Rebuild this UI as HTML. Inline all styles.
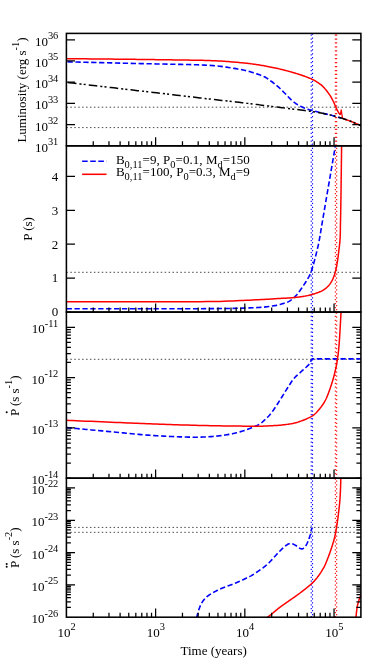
<!DOCTYPE html>
<html><head><meta charset="utf-8"><title>chart</title>
<style>html,body{margin:0;padding:0;background:#fff;}svg{display:block;}svg{will-change:transform;}text{font-family:"Liberation Serif",serif;fill:#000;}</style></head><body>
<svg width="380" height="664" viewBox="0 0 380 664">
<rect width="380" height="664" fill="#fff"/>
<defs>
<clipPath id="c0"><rect x="66.4" y="33.4" width="294.5" height="112.4"/></clipPath>
<clipPath id="c1"><rect x="66.4" y="145.8" width="294.5" height="166.3"/></clipPath>
<clipPath id="c2"><rect x="66.4" y="312.1" width="294.5" height="166.1"/></clipPath>
<clipPath id="c3"><rect x="66.4" y="478.2" width="294.5" height="139"/></clipPath>
</defs>
<path d="M66.4 107.2 H360.9" fill="none" stroke="#000" stroke-width="0.72" stroke-dasharray="1.5 2.43"/>
<path d="M66.4 127.6 H360.9" fill="none" stroke="#000" stroke-width="0.72" stroke-dasharray="1.5 2.43"/>
<path d="M66.4 272.3 H360.9" fill="none" stroke="#000" stroke-width="0.72" stroke-dasharray="1.5 2.43"/>
<path d="M66.4 359.3 H360.9" fill="none" stroke="#000" stroke-width="0.72" stroke-dasharray="1.5 2.43"/>
<path d="M66.4 527.4 H360.9" fill="none" stroke="#000" stroke-width="0.72" stroke-dasharray="1.5 2.43"/>
<path d="M66.4 532.3 H360.9" fill="none" stroke="#000" stroke-width="0.72" stroke-dasharray="1.5 2.43"/>
<path d="M311.25 145.8 V33.4" fill="none" stroke="#0000ff" stroke-width="1.1" stroke-dasharray="1.25 2.68" stroke-dashoffset="0"/>
<path d="M312.55 145.8 V33.4" fill="none" stroke="#0000ff" stroke-width="1.1" stroke-dasharray="1.25 2.68" stroke-dashoffset="-1"/>
<path d="M311.25 312.1 V145.8" fill="none" stroke="#0000ff" stroke-width="1.1" stroke-dasharray="1.25 2.68" stroke-dashoffset="0"/>
<path d="M312.55 312.1 V145.8" fill="none" stroke="#0000ff" stroke-width="1.1" stroke-dasharray="1.25 2.68" stroke-dashoffset="2"/>
<path d="M311.25 478.2 V312.1" fill="none" stroke="#0000ff" stroke-width="1.1" stroke-dasharray="1.25 2.68" stroke-dashoffset="0"/>
<path d="M312.55 478.2 V312.1" fill="none" stroke="#0000ff" stroke-width="1.1" stroke-dasharray="1.25 2.68" stroke-dashoffset="0.3"/>
<path d="M311.25 617.2 V478.2" fill="none" stroke="#0000ff" stroke-width="1.1" stroke-dasharray="1.25 2.68" stroke-dashoffset="0"/>
<path d="M312.55 617.2 V478.2" fill="none" stroke="#0000ff" stroke-width="1.1" stroke-dasharray="1.25 2.68" stroke-dashoffset="2"/>
<path d="M335.35 145.8 V33.4" fill="none" stroke="#ff0000" stroke-width="1.1" stroke-dasharray="1.25 2.68" stroke-dashoffset="0"/>
<path d="M336.65 145.8 V33.4" fill="none" stroke="#ff0000" stroke-width="1.1" stroke-dasharray="1.25 2.68" stroke-dashoffset="0"/>
<path d="M335.35 312.1 V145.8" fill="none" stroke="#ff0000" stroke-width="1.1" stroke-dasharray="1.25 2.68" stroke-dashoffset="0"/>
<path d="M336.65 312.1 V145.8" fill="none" stroke="#ff0000" stroke-width="1.1" stroke-dasharray="1.25 2.68" stroke-dashoffset="2"/>
<path d="M335.35 478.2 V312.1" fill="none" stroke="#ff0000" stroke-width="1.1" stroke-dasharray="1.25 2.68" stroke-dashoffset="0"/>
<path d="M336.65 478.2 V312.1" fill="none" stroke="#ff0000" stroke-width="1.1" stroke-dasharray="1.25 2.68" stroke-dashoffset="0.7"/>
<path d="M335.35 617.2 V478.2" fill="none" stroke="#ff0000" stroke-width="1.1" stroke-dasharray="1.25 2.68" stroke-dashoffset="0"/>
<path d="M336.65 617.2 V478.2" fill="none" stroke="#ff0000" stroke-width="1.1" stroke-dasharray="1.25 2.68" stroke-dashoffset="2"/>
<path d="M66.6 61.8 L69.22 61.86 L72.56 61.95 L76.51 62.04 L80.94 62.15 L85.74 62.27 L90.8 62.39 L96 62.52 L101.21 62.65 L106.34 62.77 L111.26 62.89 L115.85 63 L120 63.1 L123.8 63.19 L127.44 63.27 L130.94 63.35 L134.33 63.43 L137.62 63.5 L140.84 63.58 L144.01 63.65 L147.16 63.71 L150.31 63.78 L153.49 63.85 L156.71 63.93 L160 64 L163.39 64.07 L166.89 64.14 L170.45 64.21 L174.04 64.28 L177.63 64.34 L181.19 64.41 L184.68 64.48 L188.07 64.56 L191.34 64.63 L194.43 64.72 L197.33 64.8 L200 64.9 L202.41 65 L204.6 65.09 L206.58 65.19 L208.4 65.29 L210.09 65.39 L211.68 65.49 L213.21 65.61 L214.7 65.74 L216.19 65.88 L217.71 66.03 L219.31 66.21 L221 66.4 L222.79 66.62 L224.64 66.87 L226.54 67.14 L228.45 67.43 L230.36 67.73 L232.26 68.04 L234.11 68.35 L235.91 68.66 L237.62 68.97 L239.24 69.26 L240.74 69.54 L242.1 69.8 L243.3 70.04 L244.35 70.25 L245.28 70.45 L246.11 70.64 L246.85 70.83 L247.54 71.01 L248.2 71.2 L248.85 71.39 L249.51 71.59 L250.21 71.81 L250.96 72.04 L251.8 72.3 L252.71 72.58 L253.66 72.87 L254.65 73.17 L255.65 73.48 L256.67 73.8 L257.69 74.13 L258.71 74.47 L259.71 74.82 L260.69 75.18 L261.64 75.55 L262.55 75.92 L263.4 76.3 L264.2 76.69 L264.97 77.08 L265.7 77.49 L266.4 77.9 L267.07 78.32 L267.73 78.74 L268.38 79.18 L269.01 79.63 L269.65 80.08 L270.29 80.54 L270.94 81.02 L271.6 81.5 L272.27 82 L272.95 82.51 L273.63 83.04 L274.31 83.58 L274.99 84.13 L275.67 84.68 L276.34 85.24 L277 85.8 L277.64 86.36 L278.28 86.91 L278.9 87.46 L279.5 88 L280.08 88.53 L280.64 89.06 L281.19 89.59 L281.72 90.11 L282.24 90.64 L282.75 91.16 L283.26 91.69 L283.76 92.21 L284.26 92.73 L284.77 93.25 L285.28 93.78 L285.8 94.3 L286.32 94.83 L286.85 95.37 L287.38 95.91 L287.9 96.46 L288.43 97.01 L288.95 97.56 L289.48 98.1 L290 98.63 L290.53 99.14 L291.05 99.65 L291.58 100.13 L292.1 100.6 L292.62 101.05 L293.15 101.48 L293.67 101.91 L294.2 102.32 L294.72 102.72 L295.24 103.11 L295.77 103.48 L296.29 103.85 L296.82 104.2 L297.34 104.55 L297.87 104.88 L298.4 105.2 L298.93 105.51 L299.45 105.8 L299.98 106.08 L300.5 106.34 L301.02 106.6 L301.55 106.84 L302.08 107.08 L302.61 107.31 L303.15 107.54 L303.69 107.76 L304.24 107.98 L304.8 108.2 L305.36 108.42 L305.91 108.62 L306.46 108.82 L307 109.01 L307.56 109.2 L308.12 109.38 L308.69 109.56 L309.29 109.74 L309.9 109.93 L310.53 110.11 L311.2 110.3 L311.9 110.5 L312.65 110.7 L313.44 110.91 L314.28 111.13 L315.14 111.34 L316.03 111.56 L316.93 111.78 L317.83 112 L318.72 112.21 L319.59 112.42 L320.44 112.62 L321.24 112.82 L322 113 L322.7 113.17 L323.34 113.32 L323.93 113.46 L324.49 113.6 L325.04 113.72 L325.57 113.85 L326.12 113.98 L326.69 114.11 L327.28 114.26 L327.93 114.42 L328.63 114.6 L329.4 114.8 L330.28 115.03 L331.28 115.3 L332.38 115.6 L333.53 115.91 L334.72 116.24 L335.91 116.56 L337.08 116.88 L338.19 117.19 L339.22 117.47 L340.13 117.72 L340.9 117.94 L341.5 118.1" fill="none" stroke="#0000ff" stroke-width="1.6" stroke-dasharray="5.3 2.6" clip-path="url(#c0)" stroke-dashoffset="7.0"/>
<path d="M66.6 58.7 L69.22 58.72 L72.56 58.75 L76.51 58.79 L80.94 58.83 L85.74 58.87 L90.8 58.92 L96 58.97 L101.21 59.01 L106.34 59.06 L111.26 59.11 L115.85 59.16 L120 59.2 L123.8 59.24 L127.44 59.28 L130.94 59.32 L134.33 59.36 L137.62 59.4 L140.84 59.44 L144.01 59.48 L147.16 59.53 L150.31 59.57 L153.49 59.61 L156.71 59.65 L160 59.7 L163.39 59.75 L166.89 59.79 L170.45 59.84 L174.04 59.89 L177.63 59.93 L181.19 59.98 L184.68 60.03 L188.07 60.08 L191.34 60.13 L194.43 60.19 L197.33 60.24 L200 60.3 L202.41 60.36 L204.6 60.41 L206.58 60.46 L208.4 60.52 L210.09 60.57 L211.68 60.63 L213.21 60.69 L214.7 60.76 L216.19 60.83 L217.71 60.91 L219.31 61 L221 61.1 L222.78 61.21 L224.59 61.33 L226.44 61.46 L228.29 61.6 L230.15 61.74 L231.99 61.89 L233.81 62.05 L235.6 62.2 L237.33 62.35 L239 62.51 L240.59 62.66 L242.1 62.8 L243.51 62.94 L244.83 63.08 L246.08 63.21 L247.26 63.34 L248.4 63.47 L249.49 63.61 L250.57 63.74 L251.63 63.88 L252.69 64.03 L253.76 64.18 L254.86 64.33 L256 64.5 L257.16 64.67 L258.31 64.85 L259.45 65.02 L260.59 65.2 L261.74 65.39 L262.88 65.58 L264.03 65.78 L265.2 65.99 L266.37 66.2 L267.56 66.42 L268.77 66.66 L270 66.9 L271.25 67.15 L272.53 67.42 L273.82 67.69 L275.13 67.97 L276.46 68.26 L277.79 68.56 L279.13 68.86 L280.47 69.17 L281.81 69.49 L283.15 69.82 L284.48 70.16 L285.8 70.5 L287.13 70.86 L288.5 71.23 L289.88 71.61 L291.27 72.01 L292.66 72.42 L294.04 72.83 L295.41 73.24 L296.74 73.64 L298.04 74.05 L299.28 74.44 L300.48 74.83 L301.6 75.2 L302.67 75.56 L303.71 75.93 L304.71 76.29 L305.67 76.65 L306.6 77.01 L307.48 77.36 L308.33 77.7 L309.13 78.03 L309.89 78.34 L310.61 78.65 L311.28 78.93 L311.9 79.2 L312.45 79.44 L312.91 79.64 L313.3 79.82 L313.63 79.97 L313.92 80.11 L314.18 80.25 L314.43 80.39 L314.68 80.54 L314.94 80.71 L315.24 80.9 L315.59 81.13 L316 81.4 L316.46 81.7 L316.96 82.01 L317.47 82.34 L318.01 82.69 L318.57 83.05 L319.14 83.44 L319.72 83.84 L320.31 84.27 L320.89 84.71 L321.47 85.18 L322.04 85.68 L322.6 86.2 L323.16 86.76 L323.73 87.36 L324.31 88 L324.9 88.67 L325.49 89.37 L326.07 90.08 L326.64 90.79 L327.2 91.5 L327.74 92.21 L328.26 92.9 L328.74 93.57 L329.2 94.2 L329.62 94.81 L330.02 95.41 L330.4 96.01 L330.75 96.59 L331.08 97.16 L331.4 97.73 L331.7 98.29 L332 98.84 L332.28 99.39 L332.56 99.93 L332.83 100.47 L333.1 101 L333.36 101.53 L333.61 102.04 L333.84 102.55 L334.06 103.06 L334.27 103.55 L334.48 104.04 L334.68 104.53 L334.87 105.01 L335.07 105.49 L335.28 105.96 L335.48 106.43 L335.7 106.9 L335.92 107.37 L336.15 107.85 L336.39 108.33 L336.62 108.81 L336.86 109.29 L337.09 109.76 L337.33 110.21 L337.56 110.66 L337.78 111.08 L338 111.48 L338.2 111.85 L338.4 112.2 L338.59 112.52 L338.78 112.82 L338.98 113.1 L339.16 113.36 L339.34 113.61 L339.52 113.83 L339.68 114.04 L339.84 114.23 L339.98 114.4 L340.1 114.55 L340.21 114.68 L340.3 114.8" fill="none" stroke="#ff0000" stroke-width="1.5" clip-path="url(#c0)"/>
<path d="M340.3 114.8 L341.2 109.8 L342.4 117.6 L343.3 118.7" fill="none" stroke="#ff0000" stroke-width="1.25" clip-path="url(#c0)" stroke-linejoin="round"/>
<path d="M343.3 118.7 L343.72 118.85 L344.24 119.03 L344.86 119.24 L345.54 119.47 L346.29 119.73 L347.09 120.01 L347.91 120.29 L348.76 120.59 L349.6 120.9 L350.43 121.2 L351.24 121.5 L352 121.8 L352.77 122.11 L353.59 122.45 L354.44 122.81 L355.31 123.19 L356.18 123.57 L357.04 123.94 L357.87 124.31 L358.66 124.66 L359.38 124.98 L360.02 125.27 L360.56 125.51 L361 125.7" fill="none" stroke="#ff0000" stroke-width="1.5" clip-path="url(#c0)"/>
<path d="M66.6 82.4 L69.22 82.7 L72.56 83.09 L76.51 83.55 L80.94 84.07 L85.74 84.62 L90.8 85.21 L96 85.82 L101.21 86.42 L106.34 87.02 L111.26 87.59 L115.85 88.12 L120 88.6 L123.8 89.04 L127.44 89.46 L130.94 89.86 L134.33 90.25 L137.62 90.63 L140.84 90.99 L144.01 91.36 L147.16 91.72 L150.31 92.08 L153.49 92.45 L156.71 92.82 L160 93.2 L163.33 93.59 L166.64 93.98 L169.95 94.37 L173.26 94.76 L176.57 95.15 L179.88 95.54 L183.19 95.93 L186.52 96.32 L189.86 96.72 L193.22 97.11 L196.6 97.5 L200 97.9 L203.47 98.3 L207.05 98.71 L210.69 99.12 L214.37 99.54 L218.07 99.96 L221.75 100.38 L225.39 100.79 L228.96 101.19 L232.44 101.59 L235.79 101.97 L238.98 102.35 L242 102.7 L244.85 103.04 L247.57 103.37 L250.17 103.69 L252.67 104 L255.06 104.3 L257.38 104.59 L259.61 104.88 L261.78 105.16 L263.89 105.43 L265.96 105.69 L267.99 105.95 L270 106.2 L271.94 106.44 L273.78 106.67 L275.52 106.89 L277.2 107.1 L278.81 107.3 L280.39 107.49 L281.95 107.69 L283.5 107.88 L285.07 108.08 L286.66 108.28 L288.3 108.48 L290 108.7 L291.76 108.92 L293.56 109.14 L295.4 109.37 L297.26 109.59 L299.12 109.82 L300.99 110.05 L302.86 110.28 L304.7 110.52 L306.52 110.76 L308.3 111 L310.03 111.25 L311.7 111.5 L313.33 111.76 L314.93 112.01 L316.5 112.28 L318.04 112.54 L319.55 112.81 L321.04 113.08 L322.5 113.36 L323.93 113.64 L325.34 113.92 L326.72 114.21 L328.07 114.5 L329.4 114.8 L330.71 115.11 L332 115.42 L333.26 115.75 L334.51 116.09 L335.72 116.42 L336.91 116.76 L338.07 117.1 L339.19 117.44 L340.28 117.77 L341.33 118.09 L342.34 118.4 L343.3 118.7 L344.21 118.98 L345.05 119.25 L345.83 119.51 L346.57 119.76 L347.28 120.01 L347.96 120.25 L348.62 120.49 L349.27 120.74 L349.93 120.99 L350.59 121.25 L351.28 121.52 L352 121.8 L352.77 122.11 L353.59 122.45 L354.44 122.81 L355.31 123.19 L356.18 123.57 L357.04 123.94 L357.87 124.31 L358.66 124.66 L359.38 124.98 L360.02 125.27 L360.56 125.51 L361 125.7" fill="none" stroke="#000000" stroke-width="1.5" stroke-dasharray="8.6 3.0 2.1 2.1 2.1 3.1" clip-path="url(#c0)" stroke-dashoffset="19.7"/>
<path d="M66.6 308.7 L73.3 308.7 L82.05 308.71 L92.46 308.72 L104.18 308.73 L116.82 308.75 L130.01 308.76 L143.39 308.76 L156.58 308.77 L169.2 308.76 L180.9 308.75 L191.29 308.73 L200 308.7 L207.31 308.66 L213.81 308.61 L219.57 308.56 L224.69 308.51 L229.24 308.44 L233.32 308.38 L237.01 308.3 L240.39 308.21 L243.56 308.12 L246.59 308.02 L249.58 307.92 L252.6 307.8 L255.49 307.67 L258.06 307.54 L260.34 307.39 L262.36 307.24 L264.16 307.08 L265.78 306.91 L267.25 306.73 L268.62 306.55 L269.91 306.37 L271.16 306.18 L272.41 305.99 L273.7 305.8 L274.96 305.6 L276.12 305.4 L277.18 305.19 L278.16 304.97 L279.06 304.75 L279.91 304.52 L280.69 304.3 L281.44 304.07 L282.15 303.85 L282.84 303.63 L283.52 303.41 L284.2 303.2 L284.85 303 L285.43 302.82 L285.97 302.66 L286.46 302.5 L286.92 302.34 L287.36 302.18 L287.79 302.01 L288.2 301.82 L288.62 301.61 L289.06 301.38 L289.51 301.11 L290 300.8 L290.51 300.46 L291.02 300.1 L291.54 299.71 L292.06 299.31 L292.59 298.88 L293.12 298.43 L293.65 297.96 L294.18 297.47 L294.71 296.96 L295.24 296.43 L295.77 295.87 L296.3 295.3 L296.83 294.7 L297.36 294.06 L297.9 293.38 L298.44 292.69 L298.98 291.97 L299.51 291.23 L300.05 290.49 L300.57 289.74 L301.1 288.99 L301.61 288.25 L302.11 287.51 L302.6 286.8 L303.08 286.09 L303.57 285.37 L304.05 284.64 L304.52 283.91 L304.99 283.19 L305.45 282.46 L305.9 281.75 L306.33 281.04 L306.75 280.35 L307.16 279.68 L307.54 279.03 L307.9 278.4 L308.24 277.81 L308.54 277.28 L308.83 276.78 L309.09 276.3 L309.34 275.84 L309.58 275.38 L309.81 274.92 L310.04 274.43 L310.27 273.92 L310.5 273.37 L310.75 272.77 L311 272.1 L311.26 271.38 L311.53 270.62 L311.79 269.82 L312.06 268.99 L312.33 268.13 L312.59 267.25 L312.86 266.34 L313.13 265.42 L313.4 264.48 L313.67 263.53 L313.93 262.57 L314.2 261.6 L314.47 260.61 L314.75 259.57 L315.03 258.49 L315.31 257.39 L315.6 256.27 L315.88 255.15 L316.16 254.03 L316.43 252.93 L316.69 251.86 L316.94 250.82 L317.18 249.83 L317.4 248.9 L317.6 248.07 L317.77 247.35 L317.92 246.71 L318.06 246.14 L318.19 245.59 L318.32 245.03 L318.45 244.44 L318.58 243.8 L318.73 243.06 L318.89 242.2 L319.08 241.19 L319.3 240 L319.54 238.67 L319.79 237.24 L320.04 235.73 L320.31 234.12 L320.6 232.42 L320.89 230.63 L321.2 228.75 L321.53 226.78 L321.87 224.72 L322.23 222.57 L322.61 220.33 L323 218 L323.42 215.54 L323.86 212.94 L324.33 210.2 L324.82 207.36 L325.32 204.42 L325.84 201.42 L326.36 198.36 L326.89 195.27 L327.43 192.17 L327.96 189.08 L328.48 186.02 L329 183 L329.53 179.9 L330.1 176.61 L330.69 173.19 L331.29 169.69 L331.89 166.19 L332.48 162.73 L333.06 159.38 L333.6 156.2 L334.11 153.24 L334.57 150.56 L334.97 148.23 L335.3 146.3 L335.56 144.79 L335.75 143.66 L335.89 142.85 L335.97 142.31 L336.02 141.99 L336.04 141.86 L336.04 141.85 L336.03 141.91 L336.01 142.01 L335.99 142.09 L335.98 142.1 L336 142" fill="none" stroke="#0000ff" stroke-width="1.6" stroke-dasharray="5.3 2.6" clip-path="url(#c1)"/>
<path d="M66.6 301.7 L73.3 301.71 L82.05 301.72 L92.46 301.74 L104.18 301.76 L116.82 301.79 L130.01 301.81 L143.39 301.82 L156.58 301.83 L169.2 301.82 L180.9 301.8 L191.29 301.76 L200 301.7 L207.3 301.62 L213.75 301.51 L219.45 301.39 L224.49 301.25 L228.97 301.1 L232.99 300.94 L236.63 300.78 L240 300.61 L243.19 300.45 L246.28 300.29 L249.39 300.14 L252.6 300 L255.77 299.87 L258.69 299.73 L261.4 299.59 L263.91 299.45 L266.24 299.32 L268.4 299.18 L270.42 299.05 L272.31 298.93 L274.1 298.81 L275.79 298.7 L277.42 298.59 L279 298.5 L280.46 298.42 L281.73 298.35 L282.84 298.3 L283.83 298.25 L284.7 298.21 L285.49 298.18 L286.23 298.14 L286.94 298.1 L287.65 298.06 L288.37 298.02 L289.15 297.96 L290 297.9 L290.89 297.83 L291.78 297.76 L292.66 297.68 L293.54 297.6 L294.41 297.52 L295.28 297.44 L296.15 297.35 L297.02 297.25 L297.89 297.15 L298.76 297.04 L299.63 296.92 L300.5 296.8 L301.37 296.67 L302.25 296.54 L303.12 296.41 L304 296.27 L304.87 296.12 L305.74 295.97 L306.62 295.81 L307.49 295.63 L308.37 295.45 L309.24 295.25 L310.12 295.03 L311 294.8 L311.89 294.55 L312.81 294.28 L313.74 294 L314.69 293.7 L315.63 293.38 L316.56 293.06 L317.48 292.73 L318.38 292.39 L319.25 292.05 L320.08 291.7 L320.87 291.35 L321.6 291 L322.28 290.65 L322.92 290.29 L323.53 289.94 L324.1 289.57 L324.64 289.21 L325.15 288.83 L325.64 288.45 L326.11 288.06 L326.57 287.66 L327.02 287.25 L327.46 286.83 L327.9 286.4 L328.33 285.96 L328.73 285.52 L329.12 285.07 L329.49 284.62 L329.85 284.16 L330.19 283.69 L330.53 283.2 L330.85 282.7 L331.17 282.18 L331.48 281.64 L331.79 281.08 L332.1 280.5 L332.41 279.89 L332.7 279.27 L333 278.62 L333.28 277.96 L333.56 277.28 L333.83 276.59 L334.1 275.88 L334.35 275.15 L334.6 274.41 L334.84 273.65 L335.08 272.88 L335.3 272.1 L335.52 271.3 L335.72 270.47 L335.92 269.62 L336.11 268.76 L336.29 267.88 L336.46 266.99 L336.63 266.09 L336.79 265.19 L336.95 264.28 L337.1 263.38 L337.25 262.49 L337.4 261.6 L337.54 260.73 L337.67 259.86 L337.8 259 L337.92 258.15 L338.04 257.29 L338.15 256.43 L338.26 255.56 L338.37 254.69 L338.47 253.79 L338.58 252.88 L338.69 251.95 L338.8 251 L338.91 250.03 L339.03 249.06 L339.15 248.08 L339.27 247.09 L339.39 246.08 L339.51 245.06 L339.63 244.02 L339.74 242.96 L339.84 241.86 L339.94 240.74 L340.02 239.59 L340.1 238.4 L340.16 237.18 L340.22 235.95 L340.26 234.7 L340.3 233.42 L340.33 232.12 L340.36 230.79 L340.38 229.42 L340.4 228.02 L340.42 226.58 L340.44 225.1 L340.47 223.57 L340.5 222 L340.53 220.39 L340.57 218.75 L340.6 217.08 L340.63 215.38 L340.67 213.64 L340.7 211.85 L340.73 210.02 L340.77 208.13 L340.8 206.19 L340.83 204.19 L340.87 202.13 L340.9 200 L340.93 197.76 L340.97 195.39 L341 192.92 L341.04 190.37 L341.07 187.76 L341.11 185.12 L341.14 182.48 L341.17 179.85 L341.21 177.27 L341.24 174.75 L341.27 172.32 L341.3 170 L341.33 167.73 L341.36 165.44 L341.39 163.16 L341.41 160.89 L341.44 158.66 L341.47 156.5 L341.49 154.42 L341.52 152.44 L341.54 150.59 L341.56 148.89 L341.58 147.35 L341.6 146 L341.62 144.85 L341.63 143.89 L341.64 143.09 L341.65 142.44 L341.66 141.92 L341.67 141.5 L341.68 141.16 L341.68 140.89 L341.69 140.66 L341.69 140.44 L341.7 140.23 L341.7 140" fill="none" stroke="#ff0000" stroke-width="1.5" clip-path="url(#c1)"/>
<path d="M66.6 427.6 L69.25 427.85 L72.68 428.17 L76.74 428.55 L81.31 428.98 L86.25 429.45 L91.42 429.93 L96.7 430.43 L101.96 430.92 L107.04 431.39 L111.84 431.84 L116.2 432.25 L120 432.6 L123.33 432.91 L126.4 433.2 L129.23 433.47 L131.87 433.72 L134.35 433.95 L136.69 434.18 L138.95 434.38 L141.14 434.58 L143.31 434.77 L145.48 434.95 L147.7 435.13 L150 435.3 L152.35 435.47 L154.69 435.62 L157.02 435.76 L159.33 435.9 L161.62 436.02 L163.87 436.14 L166.09 436.25 L168.26 436.35 L170.37 436.44 L172.42 436.53 L174.4 436.62 L176.3 436.7 L178.13 436.78 L179.88 436.85 L181.58 436.91 L183.21 436.97 L184.79 437.02 L186.32 437.06 L187.8 437.1 L189.24 437.13 L190.65 437.16 L192.03 437.18 L193.37 437.19 L194.7 437.2 L195.98 437.2 L197.2 437.19 L198.37 437.18 L199.49 437.16 L200.57 437.14 L201.63 437.11 L202.67 437.07 L203.7 437.03 L204.73 436.98 L205.77 436.92 L206.82 436.86 L207.9 436.8 L208.99 436.73 L210.08 436.66 L211.17 436.58 L212.26 436.5 L213.35 436.41 L214.43 436.32 L215.52 436.22 L216.61 436.11 L217.7 436 L218.79 435.87 L219.89 435.74 L221 435.6 L222.11 435.45 L223.24 435.3 L224.38 435.14 L225.51 434.97 L226.66 434.79 L227.8 434.61 L228.94 434.41 L230.07 434.21 L231.2 434 L232.31 433.78 L233.42 433.54 L234.5 433.3 L235.57 433.04 L236.62 432.78 L237.67 432.5 L238.7 432.22 L239.73 431.92 L240.75 431.62 L241.76 431.3 L242.77 430.98 L243.78 430.65 L244.79 430.31 L245.79 429.96 L246.8 429.6 L247.82 429.23 L248.88 428.84 L249.94 428.43 L251.02 428.01 L252.09 427.59 L253.15 427.16 L254.19 426.72 L255.19 426.29 L256.16 425.85 L257.07 425.43 L257.92 425.01 L258.7 424.6 L259.4 424.21 L260.03 423.83 L260.6 423.45 L261.11 423.09 L261.58 422.73 L262.02 422.36 L262.45 422 L262.86 421.62 L263.27 421.24 L263.69 420.84 L264.13 420.43 L264.6 420 L265.09 419.56 L265.58 419.11 L266.07 418.66 L266.56 418.2 L267.05 417.73 L267.54 417.24 L268.03 416.75 L268.53 416.24 L269.02 415.71 L269.51 415.16 L270 414.59 L270.5 414 L271 413.38 L271.5 412.74 L272 412.07 L272.5 411.38 L273 410.68 L273.5 409.96 L274 409.22 L274.5 408.49 L275 407.74 L275.5 406.99 L276 406.24 L276.5 405.5 L277 404.75 L277.49 404 L277.98 403.24 L278.47 402.47 L278.97 401.69 L279.46 400.91 L279.95 400.13 L280.44 399.34 L280.93 398.56 L281.42 397.77 L281.91 396.98 L282.4 396.2 L282.89 395.41 L283.38 394.62 L283.88 393.82 L284.37 393.01 L284.86 392.21 L285.35 391.4 L285.84 390.6 L286.33 389.8 L286.82 389.01 L287.32 388.23 L287.81 387.46 L288.3 386.7 L288.79 385.95 L289.27 385.2 L289.75 384.46 L290.22 383.73 L290.7 383 L291.17 382.28 L291.66 381.56 L292.14 380.86 L292.64 380.18 L293.15 379.5 L293.67 378.84 L294.2 378.2 L294.75 377.58 L295.31 376.98 L295.89 376.4 L296.47 375.83 L297.07 375.28 L297.67 374.73 L298.27 374.19 L298.88 373.66 L299.49 373.13 L300.1 372.59 L300.7 372.05 L301.3 371.5 L301.91 370.94 L302.54 370.37 L303.19 369.8 L303.85 369.23 L304.51 368.66 L305.16 368.09 L305.8 367.52 L306.41 366.97 L307 366.43 L307.55 365.9 L308.05 365.39 L308.5 364.9 L308.9 364.42 L309.27 363.93 L309.6 363.44 L309.89 362.96 L310.16 362.49 L310.4 362.04 L310.61 361.61 L310.81 361.21 L310.98 360.84 L311.13 360.51 L311.27 360.23 L311.4 360 L312.2 358.9 L361 358.9" fill="none" stroke="#0000ff" stroke-width="1.6" stroke-dasharray="5.3 2.6" clip-path="url(#c2)"/>
<path d="M66.6 420.3 L69.22 420.41 L72.56 420.56 L76.51 420.73 L80.94 420.92 L85.74 421.13 L90.8 421.35 L96 421.57 L101.21 421.8 L106.34 422.02 L111.26 422.23 L115.85 422.43 L120 422.6 L123.79 422.76 L127.41 422.91 L130.88 423.06 L134.23 423.2 L137.48 423.33 L140.67 423.46 L143.83 423.59 L146.97 423.71 L150.13 423.84 L153.34 423.96 L156.62 424.08 L160 424.2 L163.44 424.32 L166.89 424.44 L170.35 424.56 L173.83 424.68 L177.32 424.79 L180.84 424.91 L184.38 425.02 L187.95 425.12 L191.55 425.22 L195.19 425.32 L198.87 425.41 L202.6 425.5 L206.48 425.58 L210.58 425.66 L214.84 425.74 L219.2 425.81 L223.58 425.88 L227.94 425.94 L232.21 426 L236.33 426.06 L240.22 426.1 L243.84 426.14 L247.12 426.18 L250 426.2 L252.44 426.22 L254.49 426.23 L256.21 426.24 L257.66 426.24 L258.89 426.24 L259.96 426.23 L260.93 426.21 L261.86 426.18 L262.81 426.15 L263.82 426.11 L264.97 426.06 L266.3 426 L267.78 425.93 L269.31 425.86 L270.87 425.78 L272.47 425.7 L274.08 425.6 L275.69 425.5 L277.3 425.39 L278.87 425.27 L280.42 425.14 L281.91 425 L283.34 424.86 L284.7 424.7 L285.98 424.54 L287.2 424.38 L288.35 424.22 L289.47 424.05 L290.54 423.87 L291.59 423.68 L292.63 423.48 L293.66 423.25 L294.69 423.01 L295.73 422.73 L296.8 422.43 L297.9 422.1 L299.04 421.73 L300.23 421.33 L301.44 420.89 L302.67 420.43 L303.9 419.95 L305.12 419.45 L306.32 418.94 L307.49 418.41 L308.61 417.88 L309.68 417.35 L310.68 416.82 L311.6 416.3 L312.43 415.79 L313.2 415.28 L313.89 414.78 L314.53 414.27 L315.13 413.76 L315.69 413.24 L316.23 412.71 L316.76 412.16 L317.27 411.59 L317.8 410.99 L318.34 410.36 L318.9 409.7 L319.48 409.01 L320.06 408.31 L320.63 407.58 L321.2 406.84 L321.77 406.07 L322.32 405.28 L322.88 404.47 L323.42 403.63 L323.96 402.76 L324.48 401.87 L325 400.95 L325.5 400 L325.99 399.01 L326.48 397.96 L326.95 396.88 L327.42 395.76 L327.88 394.62 L328.33 393.46 L328.76 392.28 L329.19 391.1 L329.61 389.93 L330.02 388.77 L330.41 387.62 L330.8 386.5 L331.17 385.4 L331.53 384.31 L331.88 383.23 L332.21 382.16 L332.54 381.09 L332.86 380.02 L333.16 378.95 L333.46 377.87 L333.76 376.79 L334.04 375.71 L334.32 374.61 L334.6 373.5 L334.87 372.39 L335.14 371.28 L335.39 370.17 L335.64 369.06 L335.89 367.95 L336.12 366.82 L336.35 365.69 L336.58 364.54 L336.79 363.37 L337 362.17 L337.2 360.95 L337.4 359.7 L337.59 358.46 L337.76 357.25 L337.92 356.07 L338.07 354.88 L338.22 353.68 L338.36 352.43 L338.5 351.13 L338.64 349.75 L338.77 348.28 L338.91 346.69 L339.05 344.97 L339.2 343.1 L339.35 340.98 L339.52 338.58 L339.69 335.96 L339.86 333.18 L340.03 330.31 L340.19 327.4 L340.36 324.52 L340.51 321.74 L340.66 319.11 L340.79 316.71 L340.9 314.58 L341 312.8 L341.08 311.34 L341.14 310.11 L341.19 309.09 L341.22 308.24 L341.25 307.56 L341.26 307.01 L341.27 306.56 L341.28 306.19 L341.28 305.87 L341.28 305.59 L341.29 305.31 L341.3 305" fill="none" stroke="#ff0000" stroke-width="1.5" clip-path="url(#c2)"/>
<path d="M196.6 618 L196.68 617.66 L196.78 617.25 L196.89 616.76 L197.01 616.21 L197.15 615.62 L197.3 614.99 L197.46 614.33 L197.63 613.65 L197.81 612.97 L198 612.29 L198.2 611.63 L198.4 611 L198.61 610.37 L198.83 609.72 L199.07 609.06 L199.31 608.39 L199.56 607.71 L199.82 607.03 L200.09 606.36 L200.37 605.69 L200.66 605.04 L200.96 604.4 L201.28 603.79 L201.6 603.2 L201.93 602.64 L202.28 602.09 L202.63 601.56 L203 601.04 L203.37 600.53 L203.76 600.04 L204.15 599.56 L204.56 599.09 L204.98 598.62 L205.41 598.17 L205.85 597.73 L206.3 597.3 L206.76 596.88 L207.22 596.48 L207.69 596.1 L208.16 595.73 L208.65 595.38 L209.15 595.02 L209.67 594.68 L210.2 594.33 L210.76 593.99 L211.35 593.63 L211.96 593.27 L212.6 592.9 L213.27 592.52 L213.96 592.14 L214.68 591.75 L215.41 591.36 L216.17 590.97 L216.96 590.57 L217.76 590.18 L218.59 589.79 L219.43 589.39 L220.3 588.99 L221.19 588.6 L222.1 588.2 L223.04 587.81 L224.02 587.42 L225.03 587.03 L226.07 586.64 L227.13 586.26 L228.2 585.87 L229.29 585.48 L230.38 585.08 L231.47 584.67 L232.56 584.26 L233.64 583.84 L234.7 583.4 L235.77 582.95 L236.88 582.47 L238 581.98 L239.13 581.47 L240.27 580.96 L241.39 580.44 L242.5 579.93 L243.58 579.43 L244.62 578.94 L245.61 578.47 L246.54 578.02 L247.4 577.6 L248.17 577.23 L248.84 576.9 L249.44 576.61 L249.98 576.35 L250.48 576.1 L250.96 575.86 L251.44 575.6 L251.94 575.31 L252.48 575 L253.07 574.63 L253.74 574.2 L254.5 573.7 L255.36 573.13 L256.29 572.52 L257.28 571.85 L258.31 571.15 L259.39 570.41 L260.49 569.64 L261.61 568.85 L262.73 568.03 L263.84 567.19 L264.93 566.33 L265.99 565.47 L267 564.6 L267.99 563.7 L268.98 562.74 L269.97 561.73 L270.96 560.7 L271.93 559.65 L272.89 558.59 L273.84 557.53 L274.77 556.5 L275.67 555.5 L276.55 554.54 L277.39 553.63 L278.2 552.8 L278.98 552.02 L279.73 551.26 L280.46 550.53 L281.16 549.84 L281.84 549.17 L282.49 548.54 L283.13 547.94 L283.74 547.37 L284.33 546.85 L284.91 546.36 L285.46 545.91 L286 545.5 L286.51 545.14 L286.98 544.81 L287.43 544.53 L287.85 544.29 L288.25 544.09 L288.63 543.92 L289.01 543.78 L289.37 543.67 L289.74 543.59 L290.12 543.54 L290.5 543.51 L290.9 543.5 L291.31 543.52 L291.72 543.59 L292.13 543.69 L292.54 543.83 L292.95 543.99 L293.36 544.18 L293.77 544.39 L294.18 544.6 L294.59 544.83 L294.99 545.06 L295.4 545.28 L295.8 545.5 L296.2 545.73 L296.61 545.99 L297.03 546.28 L297.44 546.58 L297.85 546.89 L298.26 547.2 L298.67 547.5 L299.06 547.79 L299.44 548.05 L299.81 548.27 L300.16 548.46 L300.5 548.6 L300.81 548.7 L301.11 548.78 L301.39 548.84 L301.65 548.87 L301.9 548.87 L302.14 548.86 L302.38 548.81 L302.62 548.74 L302.86 548.65 L303.1 548.53 L303.34 548.38 L303.6 548.2 L303.86 548 L304.13 547.77 L304.39 547.52 L304.66 547.24 L304.92 546.93 L305.19 546.6 L305.46 546.24 L305.73 545.85 L305.99 545.43 L306.26 544.99 L306.53 544.51 L306.8 544 L307.07 543.44 L307.36 542.83 L307.64 542.18 L307.93 541.49 L308.22 540.76 L308.51 540.02 L308.8 539.26 L309.07 538.5 L309.34 537.75 L309.59 537.01 L309.83 536.29 L310.05 535.6 L310.26 534.91 L310.45 534.19 L310.64 533.45 L310.82 532.7 L310.99 531.95 L311.15 531.23 L311.3 530.53 L311.44 529.87 L311.56 529.27 L311.67 528.73 L311.77 528.27 L311.85 527.9" fill="none" stroke="#0000ff" stroke-width="1.6" stroke-dasharray="5.3 2.6" clip-path="url(#c3)"/>
<path d="M265.5 619 L265.61 618.9 L265.75 618.79 L265.9 618.66 L266.06 618.52 L266.25 618.36 L266.45 618.19 L266.67 618 L266.9 617.8 L267.15 617.59 L267.42 617.37 L267.7 617.14 L268 616.9 L268.32 616.65 L268.65 616.38 L269.01 616.1 L269.39 615.8 L269.78 615.49 L270.19 615.17 L270.61 614.85 L271.03 614.51 L271.47 614.17 L271.91 613.82 L272.35 613.46 L272.8 613.1 L273.25 612.73 L273.72 612.34 L274.2 611.94 L274.69 611.53 L275.18 611.11 L275.68 610.68 L276.19 610.25 L276.69 609.83 L277.2 609.41 L277.7 608.99 L278.2 608.59 L278.7 608.2 L279.19 607.82 L279.68 607.45 L280.18 607.08 L280.67 606.71 L281.16 606.36 L281.65 606 L282.14 605.65 L282.63 605.3 L283.13 604.95 L283.62 604.6 L284.11 604.25 L284.6 603.9 L285.09 603.55 L285.58 603.21 L286.07 602.86 L286.56 602.52 L287.05 602.18 L287.54 601.84 L288.03 601.51 L288.53 601.17 L289.02 600.83 L289.51 600.49 L290 600.14 L290.5 599.8 L291 599.45 L291.5 599.11 L292 598.76 L292.5 598.41 L293 598.07 L293.5 597.72 L294 597.37 L294.5 597.02 L295 596.67 L295.5 596.31 L296 595.96 L296.5 595.6 L297 595.24 L297.5 594.87 L298.01 594.5 L298.52 594.12 L299.03 593.74 L299.54 593.36 L300.04 592.99 L300.53 592.61 L301.02 592.25 L301.49 591.89 L301.95 591.54 L302.4 591.2 L302.83 590.87 L303.24 590.56 L303.63 590.26 L304.02 589.96 L304.39 589.67 L304.76 589.39 L305.13 589.1 L305.49 588.81 L305.86 588.52 L306.23 588.23 L306.61 587.92 L307 587.6 L307.4 587.27 L307.81 586.93 L308.23 586.58 L308.66 586.23 L309.09 585.87 L309.51 585.51 L309.94 585.15 L310.35 584.79 L310.76 584.44 L311.16 584.08 L311.54 583.74 L311.9 583.4 L312.25 583.07 L312.58 582.75 L312.9 582.43 L313.21 582.12 L313.51 581.81 L313.8 581.5 L314.09 581.19 L314.37 580.88 L314.65 580.57 L314.93 580.25 L315.21 579.93 L315.5 579.6 L315.78 579.27 L316.06 578.94 L316.34 578.61 L316.61 578.28 L316.88 577.94 L317.15 577.61 L317.42 577.26 L317.69 576.91 L317.96 576.55 L318.24 576.18 L318.52 575.8 L318.8 575.4 L319.09 574.99 L319.38 574.57 L319.68 574.14 L319.99 573.7 L320.29 573.26 L320.59 572.8 L320.9 572.34 L321.2 571.86 L321.51 571.38 L321.81 570.9 L322.11 570.4 L322.4 569.9 L322.69 569.41 L322.96 568.94 L323.23 568.48 L323.49 568.02 L323.75 567.56 L324.02 567.07 L324.28 566.57 L324.56 566.02 L324.85 565.43 L325.15 564.79 L325.46 564.08 L325.8 563.3 L326.16 562.44 L326.54 561.5 L326.95 560.5 L327.36 559.45 L327.79 558.35 L328.23 557.21 L328.67 556.05 L329.1 554.87 L329.53 553.69 L329.95 552.51 L330.36 551.34 L330.75 550.2 L331.13 549.07 L331.51 547.93 L331.88 546.79 L332.25 545.64 L332.61 544.49 L332.97 543.33 L333.32 542.16 L333.66 540.99 L333.99 539.81 L334.31 538.61 L334.61 537.41 L334.9 536.2 L335.17 534.97 L335.44 533.7 L335.68 532.41 L335.92 531.1 L336.15 529.79 L336.37 528.48 L336.57 527.17 L336.77 525.87 L336.96 524.6 L337.15 523.36 L337.33 522.16 L337.5 521 L337.67 519.88 L337.82 518.78 L337.97 517.7 L338.1 516.65 L338.23 515.62 L338.36 514.61 L338.47 513.63 L338.59 512.66 L338.69 511.71 L338.8 510.79 L338.9 509.88 L339 509 L339.1 508.15 L339.19 507.35 L339.27 506.59 L339.36 505.85 L339.43 505.14 L339.51 504.44 L339.58 503.74 L339.64 503.04 L339.71 502.32 L339.77 501.58 L339.84 500.81 L339.9 500 L339.96 499.15 L340.02 498.27 L340.08 497.37 L340.13 496.44 L340.19 495.51 L340.24 494.56 L340.29 493.61 L340.33 492.67 L340.38 491.73 L340.42 490.8 L340.46 489.89 L340.5 489 L340.54 488.13 L340.57 487.26 L340.6 486.41 L340.63 485.56 L340.65 484.71 L340.68 483.88 L340.7 483.05 L340.72 482.22 L340.74 481.41 L340.76 480.6 L340.78 479.8 L340.8 479 L340.82 478.19 L340.84 477.34 L340.86 476.47 L340.88 475.59 L340.9 474.72 L340.92 473.88 L340.94 473.06 L340.95 472.3 L340.97 471.59 L340.98 470.97 L340.99 470.43 L341 470" fill="none" stroke="#ff0000" stroke-width="1.5" clip-path="url(#c3)"/>
<path d="M355.9 618 L355.96 617.47 L356.03 616.8 L356.11 615.99 L356.2 615.09 L356.29 614.12 L356.4 613.09 L356.51 612.05 L356.63 611.01 L356.74 610 L356.86 609.04 L356.98 608.17 L357.1 607.4 L357.22 606.72 L357.34 606.09 L357.46 605.51 L357.59 604.96 L357.72 604.43 L357.86 603.94 L357.99 603.46 L358.13 602.99 L358.27 602.52 L358.41 602.06 L358.55 601.59 L358.7 601.1 L358.85 600.6 L359.01 600.1 L359.17 599.6 L359.33 599.1 L359.5 598.61 L359.66 598.12 L359.83 597.65 L359.99 597.19 L360.15 596.74 L360.31 596.3 L360.46 595.89 L360.6 595.5 L360.74 595.12 L360.88 594.75 L361.02 594.4 L361.16 594.05 L361.29 593.72 L361.42 593.4 L361.54 593.1 L361.66 592.83 L361.76 592.58 L361.85 592.36 L361.93 592.16 L362 592" fill="none" stroke="#ff0000" stroke-width="1.5" clip-path="url(#c3)"/>
<path d="M93.26 145.8 L93.26 141.3 M108.97 145.8 L108.97 141.3 M120.11 145.8 L120.11 141.3 M128.76 145.8 L128.76 141.3 M135.82 145.8 L135.82 141.3 M141.8 145.8 L141.8 141.3 M146.97 145.8 L146.97 141.3 M151.53 145.8 L151.53 141.3 M155.61 145.8 L155.61 137.2 M182.47 145.8 L182.47 141.3 M198.18 145.8 L198.18 141.3 M209.33 145.8 L209.33 141.3 M217.97 145.8 L217.97 141.3 M225.04 145.8 L225.04 141.3 M231.01 145.8 L231.01 141.3 M236.18 145.8 L236.18 141.3 M240.75 145.8 L240.75 141.3 M244.83 145.8 L244.83 137.2 M271.69 145.8 L271.69 141.3 M287.4 145.8 L287.4 141.3 M298.54 145.8 L298.54 141.3 M307.19 145.8 L307.19 141.3 M314.25 145.8 L314.25 141.3 M320.22 145.8 L320.22 141.3 M325.4 145.8 L325.4 141.3 M329.96 145.8 L329.96 141.3 M334.04 145.8 L334.04 137.2 M93.26 312.1 L93.26 307.6 M108.97 312.1 L108.97 307.6 M120.11 312.1 L120.11 307.6 M128.76 312.1 L128.76 307.6 M135.82 312.1 L135.82 307.6 M141.8 312.1 L141.8 307.6 M146.97 312.1 L146.97 307.6 M151.53 312.1 L151.53 307.6 M155.61 312.1 L155.61 303.5 M182.47 312.1 L182.47 307.6 M198.18 312.1 L198.18 307.6 M209.33 312.1 L209.33 307.6 M217.97 312.1 L217.97 307.6 M225.04 312.1 L225.04 307.6 M231.01 312.1 L231.01 307.6 M236.18 312.1 L236.18 307.6 M240.75 312.1 L240.75 307.6 M244.83 312.1 L244.83 303.5 M271.69 312.1 L271.69 307.6 M287.4 312.1 L287.4 307.6 M298.54 312.1 L298.54 307.6 M307.19 312.1 L307.19 307.6 M314.25 312.1 L314.25 307.6 M320.22 312.1 L320.22 307.6 M325.4 312.1 L325.4 307.6 M329.96 312.1 L329.96 307.6 M334.04 312.1 L334.04 303.5 M93.26 478.2 L93.26 473.7 M108.97 478.2 L108.97 473.7 M120.11 478.2 L120.11 473.7 M128.76 478.2 L128.76 473.7 M135.82 478.2 L135.82 473.7 M141.8 478.2 L141.8 473.7 M146.97 478.2 L146.97 473.7 M151.53 478.2 L151.53 473.7 M155.61 478.2 L155.61 469.6 M182.47 478.2 L182.47 473.7 M198.18 478.2 L198.18 473.7 M209.33 478.2 L209.33 473.7 M217.97 478.2 L217.97 473.7 M225.04 478.2 L225.04 473.7 M231.01 478.2 L231.01 473.7 M236.18 478.2 L236.18 473.7 M240.75 478.2 L240.75 473.7 M244.83 478.2 L244.83 469.6 M271.69 478.2 L271.69 473.7 M287.4 478.2 L287.4 473.7 M298.54 478.2 L298.54 473.7 M307.19 478.2 L307.19 473.7 M314.25 478.2 L314.25 473.7 M320.22 478.2 L320.22 473.7 M325.4 478.2 L325.4 473.7 M329.96 478.2 L329.96 473.7 M334.04 478.2 L334.04 469.6 M93.26 617.2 L93.26 612.7 M108.97 617.2 L108.97 612.7 M120.11 617.2 L120.11 612.7 M128.76 617.2 L128.76 612.7 M135.82 617.2 L135.82 612.7 M141.8 617.2 L141.8 612.7 M146.97 617.2 L146.97 612.7 M151.53 617.2 L151.53 612.7 M155.61 617.2 L155.61 608.6 M182.47 617.2 L182.47 612.7 M198.18 617.2 L198.18 612.7 M209.33 617.2 L209.33 612.7 M217.97 617.2 L217.97 612.7 M225.04 617.2 L225.04 612.7 M231.01 617.2 L231.01 612.7 M236.18 617.2 L236.18 612.7 M240.75 617.2 L240.75 612.7 M244.83 617.2 L244.83 608.6 M271.69 617.2 L271.69 612.7 M287.4 617.2 L287.4 612.7 M298.54 617.2 L298.54 612.7 M307.19 617.2 L307.19 612.7 M314.25 617.2 L314.25 612.7 M320.22 617.2 L320.22 612.7 M325.4 617.2 L325.4 612.7 M329.96 617.2 L329.96 612.7 M334.04 617.2 L334.04 608.6 M66.4 124.6 L75 124.6 M360.9 124.6 L352.3 124.6 M66.4 103.39 L75 103.39 M360.9 103.39 L352.3 103.39 M66.4 82.19 L75 82.19 M360.9 82.19 L352.3 82.19 M66.4 60.99 L75 60.99 M360.9 60.99 L352.3 60.99 M66.4 39.78 L75 39.78 M360.9 39.78 L352.3 39.78 M66.4 463.05 L70.9 463.05 M360.9 463.05 L356.4 463.05 M66.4 454.19 L70.9 454.19 M360.9 454.19 L356.4 454.19 M66.4 447.91 L70.9 447.91 M360.9 447.91 L356.4 447.91 M66.4 443.03 L70.9 443.03 M360.9 443.03 L356.4 443.03 M66.4 439.05 L70.9 439.05 M360.9 439.05 L356.4 439.05 M66.4 435.68 L70.9 435.68 M360.9 435.68 L356.4 435.68 M66.4 432.76 L70.9 432.76 M360.9 432.76 L356.4 432.76 M66.4 430.18 L70.9 430.18 M360.9 430.18 L356.4 430.18 M66.4 427.88 L75 427.88 M360.9 427.88 L352.3 427.88 M66.4 412.74 L70.9 412.74 M360.9 412.74 L356.4 412.74 M66.4 403.87 L70.9 403.87 M360.9 403.87 L356.4 403.87 M66.4 397.59 L70.9 397.59 M360.9 397.59 L356.4 397.59 M66.4 392.71 L70.9 392.71 M360.9 392.71 L356.4 392.71 M66.4 388.73 L70.9 388.73 M360.9 388.73 L356.4 388.73 M66.4 385.36 L70.9 385.36 M360.9 385.36 L356.4 385.36 M66.4 382.44 L70.9 382.44 M360.9 382.44 L356.4 382.44 M66.4 379.87 L70.9 379.87 M360.9 379.87 L356.4 379.87 M66.4 377.56 L75 377.56 M360.9 377.56 L352.3 377.56 M66.4 362.42 L70.9 362.42 M360.9 362.42 L356.4 362.42 M66.4 353.56 L70.9 353.56 M360.9 353.56 L356.4 353.56 M66.4 347.27 L70.9 347.27 M360.9 347.27 L356.4 347.27 M66.4 342.39 L70.9 342.39 M360.9 342.39 L356.4 342.39 M66.4 338.41 L70.9 338.41 M360.9 338.41 L356.4 338.41 M66.4 335.04 L70.9 335.04 M360.9 335.04 L356.4 335.04 M66.4 332.12 L70.9 332.12 M360.9 332.12 L356.4 332.12 M66.4 329.55 L70.9 329.55 M360.9 329.55 L356.4 329.55 M66.4 327.25 L75 327.25 M360.9 327.25 L352.3 327.25 M66.4 312.1 L70.9 312.1 M360.9 312.1 L356.4 312.1 M66.4 607.47 L70.9 607.47 M360.9 607.47 L356.4 607.47 M66.4 601.78 L70.9 601.78 M360.9 601.78 L356.4 601.78 M66.4 597.74 L70.9 597.74 M360.9 597.74 L356.4 597.74 M66.4 594.61 L70.9 594.61 M360.9 594.61 L356.4 594.61 M66.4 592.05 L70.9 592.05 M360.9 592.05 L356.4 592.05 M66.4 589.89 L70.9 589.89 M360.9 589.89 L356.4 589.89 M66.4 588.01 L70.9 588.01 M360.9 588.01 L356.4 588.01 M66.4 586.36 L70.9 586.36 M360.9 586.36 L356.4 586.36 M66.4 584.88 L75 584.88 M360.9 584.88 L352.3 584.88 M66.4 575.15 L70.9 575.15 M360.9 575.15 L356.4 575.15 M66.4 569.46 L70.9 569.46 M360.9 569.46 L356.4 569.46 M66.4 565.42 L70.9 565.42 M360.9 565.42 L356.4 565.42 M66.4 562.29 L70.9 562.29 M360.9 562.29 L356.4 562.29 M66.4 559.73 L70.9 559.73 M360.9 559.73 L356.4 559.73 M66.4 557.57 L70.9 557.57 M360.9 557.57 L356.4 557.57 M66.4 555.7 L70.9 555.7 M360.9 555.7 L356.4 555.7 M66.4 554.04 L70.9 554.04 M360.9 554.04 L356.4 554.04 M66.4 552.56 L75 552.56 M360.9 552.56 L352.3 552.56 M66.4 542.84 L70.9 542.84 M360.9 542.84 L356.4 542.84 M66.4 537.14 L70.9 537.14 M360.9 537.14 L356.4 537.14 M66.4 533.11 L70.9 533.11 M360.9 533.11 L356.4 533.11 M66.4 529.98 L70.9 529.98 M360.9 529.98 L356.4 529.98 M66.4 527.42 L70.9 527.42 M360.9 527.42 L356.4 527.42 M66.4 525.25 L70.9 525.25 M360.9 525.25 L356.4 525.25 M66.4 523.38 L70.9 523.38 M360.9 523.38 L356.4 523.38 M66.4 521.73 L70.9 521.73 M360.9 521.73 L356.4 521.73 M66.4 520.25 L75 520.25 M360.9 520.25 L352.3 520.25 M66.4 510.52 L70.9 510.52 M360.9 510.52 L356.4 510.52 M66.4 504.83 L70.9 504.83 M360.9 504.83 L356.4 504.83 M66.4 500.79 L70.9 500.79 M360.9 500.79 L356.4 500.79 M66.4 497.66 L70.9 497.66 M360.9 497.66 L356.4 497.66 M66.4 495.1 L70.9 495.1 M360.9 495.1 L356.4 495.1 M66.4 492.93 L70.9 492.93 M360.9 492.93 L356.4 492.93 M66.4 491.06 L70.9 491.06 M360.9 491.06 L356.4 491.06 M66.4 489.41 L70.9 489.41 M360.9 489.41 L356.4 489.41 M66.4 487.93 L75 487.93 M360.9 487.93 L352.3 487.93 M66.4 478.2 L70.9 478.2 M360.9 478.2 L356.4 478.2 M66.4 278.16 L75 278.16 M360.9 278.16 L352.3 278.16 M66.4 244.22 L75 244.22 M360.9 244.22 L352.3 244.22 M66.4 210.28 L75 210.28 M360.9 210.28 L352.3 210.28 M66.4 176.34 L75 176.34 M360.9 176.34 L352.3 176.34" fill="none" stroke="#000" stroke-width="1.25"/>
<rect x="66.4" y="33.4" width="294.5" height="112.4" fill="none" stroke="#000" stroke-width="1.55"/>
<rect x="66.4" y="145.8" width="294.5" height="166.3" fill="none" stroke="#000" stroke-width="1.55"/>
<rect x="66.4" y="312.1" width="294.5" height="166.1" fill="none" stroke="#000" stroke-width="1.55"/>
<rect x="66.4" y="478.2" width="294.5" height="139" fill="none" stroke="#000" stroke-width="1.55"/>
<text x="58.3" y="151.8" font-size="13" text-anchor="end">10<tspan font-size="10.4" dy="-6.6">31</tspan></text>
<text x="58.3" y="130.6" font-size="13" text-anchor="end">10<tspan font-size="10.4" dy="-6.6">32</tspan></text>
<text x="58.3" y="109.39" font-size="13" text-anchor="end">10<tspan font-size="10.4" dy="-6.6">33</tspan></text>
<text x="58.3" y="88.19" font-size="13" text-anchor="end">10<tspan font-size="10.4" dy="-6.6">34</tspan></text>
<text x="58.3" y="66.99" font-size="13" text-anchor="end">10<tspan font-size="10.4" dy="-6.6">35</tspan></text>
<text x="58.3" y="45.78" font-size="13" text-anchor="end">10<tspan font-size="10.4" dy="-6.6">36</tspan></text>
<text x="58.3" y="316.4" font-size="13" text-anchor="end">0</text>
<text x="58.3" y="282.46" font-size="13" text-anchor="end">1</text>
<text x="58.3" y="248.52" font-size="13" text-anchor="end">2</text>
<text x="58.3" y="214.58" font-size="13" text-anchor="end">3</text>
<text x="58.3" y="180.64" font-size="13" text-anchor="end">4</text>
<text x="58.3" y="484.2" font-size="13" text-anchor="end">10<tspan font-size="10.4" dy="-6.6">-14</tspan></text>
<text x="58.3" y="433.88" font-size="13" text-anchor="end">10<tspan font-size="10.4" dy="-6.6">-13</tspan></text>
<text x="58.3" y="383.56" font-size="13" text-anchor="end">10<tspan font-size="10.4" dy="-6.6">-12</tspan></text>
<text x="58.3" y="333.25" font-size="13" text-anchor="end">10<tspan font-size="10.4" dy="-6.6">-11</tspan></text>
<text x="58.3" y="623.2" font-size="13" text-anchor="end">10<tspan font-size="10.4" dy="-6.6">-26</tspan></text>
<text x="58.3" y="590.88" font-size="13" text-anchor="end">10<tspan font-size="10.4" dy="-6.6">-25</tspan></text>
<text x="58.3" y="558.56" font-size="13" text-anchor="end">10<tspan font-size="10.4" dy="-6.6">-24</tspan></text>
<text x="58.3" y="526.25" font-size="13" text-anchor="end">10<tspan font-size="10.4" dy="-6.6">-23</tspan></text>
<text x="58.3" y="493.93" font-size="13" text-anchor="end">10<tspan font-size="10.4" dy="-6.6">-22</tspan></text>
<text x="66.7" y="636.9" font-size="13" text-anchor="middle">10<tspan font-size="10.4" dy="-6.6">2</tspan></text>
<text x="155.91" y="636.9" font-size="13" text-anchor="middle">10<tspan font-size="10.4" dy="-6.6">3</tspan></text>
<text x="245.13" y="636.9" font-size="13" text-anchor="middle">10<tspan font-size="10.4" dy="-6.6">4</tspan></text>
<text x="334.34" y="636.9" font-size="13" text-anchor="middle">10<tspan font-size="10.4" dy="-6.6">5</tspan></text>
<text x="213.65" y="654.9" font-size="13" text-anchor="middle">Time (years)</text>
<text transform="translate(26 90) rotate(-90)" font-size="13" text-anchor="middle">Luminosity (erg s<tspan font-size="10.4" dy="-6.6">-1</tspan><tspan dy="6.6">)</tspan></text>
<text transform="translate(32.4 228.95) rotate(-90)" font-size="13" text-anchor="middle">P (s)</text>
<text transform="translate(19 395.75) rotate(-90)" font-size="13" text-anchor="middle">P (s s<tspan font-size="10.4" dy="-6.6">-1</tspan><tspan dy="6.6">)</tspan></text>
<text transform="translate(19 547.7) rotate(-90)" font-size="13" text-anchor="middle">P (s s<tspan font-size="10.4" dy="-6.6">-2</tspan><tspan dy="6.6">)</tspan></text>
<circle cx="6.7" cy="412.3" r="1.0" fill="#000"/>
<circle cx="6.7" cy="564.1" r="1.0" fill="#000"/>
<circle cx="6.7" cy="566.8" r="1.0" fill="#000"/>
<text x="249.7" y="163.9" font-size="13" text-anchor="end" textLength="133.8" lengthAdjust="spacing">B<tspan font-size="10.4" dy="3.9">0,11</tspan><tspan dy="-3.9">=9, P</tspan><tspan font-size="10.4" dy="3.9">0</tspan><tspan dy="-3.9">=0.1, M</tspan><tspan font-size="10.4" dy="3.9">d</tspan><tspan dy="-3.9">=150</tspan></text>
<text x="249.7" y="176.1" font-size="13" text-anchor="end" textLength="133.8" lengthAdjust="spacing">B<tspan font-size="10.4" dy="3.9">0,11</tspan><tspan dy="-3.9">=100, P</tspan><tspan font-size="10.4" dy="3.9">0</tspan><tspan dy="-3.9">=0.3, M</tspan><tspan font-size="10.4" dy="3.9">d</tspan><tspan dy="-3.9">=9</tspan></text>
<path d="M82.1 161.2 H106.6" fill="none" stroke="#0000ff" stroke-width="1.6" stroke-dasharray="5.6 2.5"/>
<path d="M82.1 174.3 H106.5" fill="none" stroke="#ff0000" stroke-width="1.55"/>
</svg></body></html>
